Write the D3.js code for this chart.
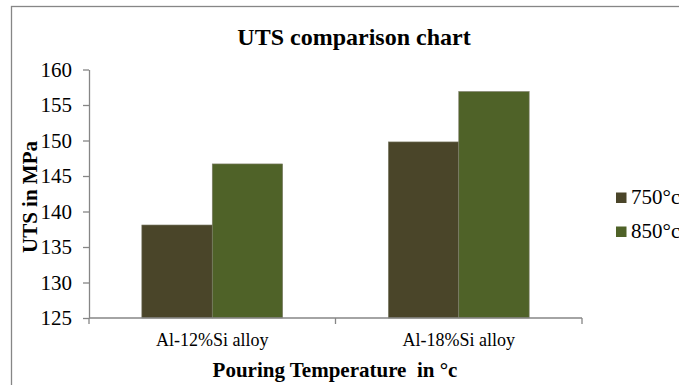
<!DOCTYPE html>
<html>
<head>
<meta charset="utf-8">
<script src="https://cdn.jsdelivr.net/npm/d3@7"></script>
<style>
  body { margin: 0; background: #fff; }
  text { font-family: "Liberation Serif", "Tinos", "Times New Roman", "DejaVu Serif", serif; }
</style>
</head>
<body>
<div id="chart"></div>
<script>
var categories = ["Al-12%Si alloy", "Al-18%Si alloy"];
var series = ["750°c", "850°c"];
var values750 = [138.1, 149.8];
var values850 = [146.7, 156.9];
var yTicks = [125, 130, 135, 140, 145, 150, 155, 160];

var width = 679,
    height = 385;

var margin = { left: 89, right: 582, top: 69.5, bottom: 318 };

var color = d3.scaleOrdinal()
    .domain(series)
    .range(["#4a4529", "#4f6228"]);

var data = categories.map(function (c, i) {
    return { cat: c, values: [
        { key: series[0], value: values750[i] },
        { key: series[1], value: values850[i] }
    ] };
});

var svg = d3.select("#chart").append("svg")
    .attr("width", width)
    .attr("height", height);

// chart border
svg.append("rect")
    .attr("x", 11.5)
    .attr("y", 6.5)
    .attr("width", 690)
    .attr("height", 400)
    .attr("fill", "none")
    .attr("stroke", "#868686")
    .attr("stroke-width", 1.3);

var x0 = d3.scaleBand()
    .domain(categories)
    .range([margin.left, margin.right])
    .paddingInner(1.5 / 3.5)
    .paddingOuter(0.75 / 3.5);

var x1 = d3.scaleBand()
    .domain(series)
    .range([0, x0.bandwidth()]);

var y = d3.scaleLinear()
    .domain([125, 160])
    .range([margin.bottom, margin.top]);

// bars
var groups = svg.selectAll(".group")
    .data(data)
    .enter().append("g")
    .attr("class", "group")
    .attr("transform", function (d) { return "translate(" + x0(d.cat) + ",0)"; });

groups.selectAll("rect")
    .data(function (d) { return d.values; })
    .enter().append("rect")
    .attr("x", function (d) { return x1(d.key); })
    .attr("y", function (d) { return y(d.value); })
    .attr("width", x1.bandwidth())
    .attr("height", function (d) { return y(125) - y(d.value); })
    .attr("fill", function (d) { return color(d.key); })
    .attr("stroke", "#7f7f6a")
    .attr("stroke-width", 0.6);

// y axis
var yAxis = svg.append("g")
    .attr("transform", "translate(" + margin.left + ",0)")
    .call(d3.axisLeft(y).tickValues(yTicks).tickSize(6).tickPadding(11).tickSizeOuter(0));

yAxis.attr("font-family", null).attr("font-size", null);
yAxis.select(".domain").attr("stroke", "#868686").attr("stroke-width", 1.3);
yAxis.selectAll(".tick line").attr("stroke", "#868686").attr("stroke-width", 1.3);
yAxis.selectAll(".tick text")
    .attr("fill", "#000")
    .style("font-size", "21px");

// x axis line and category boundary ticks
var step = x0.step();
var bounds = [margin.left].concat(categories.map(function (c) {
    return x0(c) - x0.paddingOuter() * step + step;
}));

svg.append("line")
    .attr("x1", margin.left)
    .attr("x2", margin.right)
    .attr("y1", y(125))
    .attr("y2", y(125))
    .attr("stroke", "#868686")
    .attr("stroke-width", 1.3);

svg.selectAll(".xtick")
    .data(bounds)
    .enter().append("line")
    .attr("class", "xtick")
    .attr("x1", function (d) { return d; })
    .attr("x2", function (d) { return d; })
    .attr("y1", y(125))
    .attr("y2", y(125) + 6)
    .attr("stroke", "#868686")
    .attr("stroke-width", 1.3);

svg.selectAll(".xlabel")
    .data(categories)
    .enter().append("text")
    .attr("class", "xlabel")
    .attr("x", function (d) { return x0(d) + x0.bandwidth() / 2; })
    .attr("y", y(125) + 28)
    .attr("text-anchor", "middle")
    .style("font-size", "18px")
    .text(function (d) { return d; });

// titles
svg.append("text")
    .attr("x", 354)
    .attr("y", 45)
    .attr("text-anchor", "middle")
    .style("font-size", "24px")
    .style("font-weight", "bold")
    .text("UTS comparison chart");

svg.append("text")
    .attr("x", 335)
    .attr("y", 377)
    .attr("text-anchor", "middle")
    .style("font-size", "21px")
    .style("font-weight", "bold")
    .style("white-space", "pre")
    .text("Pouring Temperature  in °c");

svg.append("text")
    .attr("transform", "translate(37,197) rotate(-90)")
    .attr("text-anchor", "middle")
    .style("font-size", "21px")
    .style("font-weight", "bold")
    .text("UTS in MPa");

// legend
var size = 10.5;
var legend = svg.selectAll(".legend")
    .data(series)
    .enter().append("g")
    .attr("class", "legend")
    .attr("transform", function (d, i) { return "translate(616," + (192.5 + i * 34) + ")"; });

legend.append("rect")
    .attr("width", size)
    .attr("height", size)
    .attr("fill", function (d) { return color(d); });

legend.append("text")
    .attr("x", 15)
    .attr("y", 11.5)
    .style("font-size", "21px")
    .text(function (d) { return d; });
</script>
</body>
</html>
